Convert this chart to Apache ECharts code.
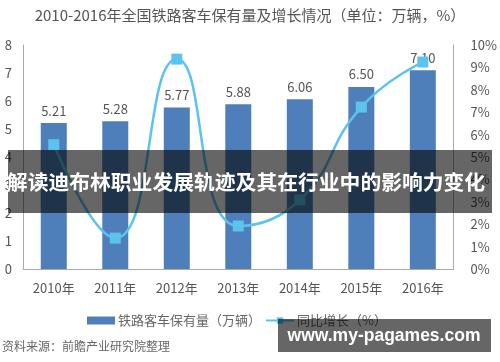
<!DOCTYPE html>
<html>
<head>
<meta charset="utf-8">
<script src="https://cdn.jsdelivr.net/npm/echarts@6/dist/echarts.min.js"></script>
<style>
html,body{margin:0;padding:0;background:#fff;}
#chart{width:500px;height:362px;}
</style>
</head>
<body>
<div id="chart"></div>
<script>
var categories = ['2010年','2011年','2012年','2013年','2014年','2015年','2016年'];
var stockValues = [5.21, 5.28, 5.77, 5.88, 6.06, 6.50, 7.10];
var growthValues = [5.55, 1.38, 9.37, 1.92, 3.08, 7.23, 9.24];
var leftTicks = {min: 0, max: 8, interval: 1};
var rightTicks = {min: 0, max: 10, interval: 1};
var titleText = '2010-2016年全国铁路客车保有量及增长情况（单位：万辆，%）';
var seriesNames = ['铁路客车保有量（万辆）', '同比增长（%）'];
var sourceText = '资料来源：前瞻产业研究院整理';
var bannerText = '解读迪布林职业发展轨迹及其在行业中的影响力变化';
var watermarkText = 'www.my-pagames.com';

var FONT = '"Noto Sans CJK SC", "Noto Sans", sans-serif';
var chart = echarts.init(document.getElementById('chart'), null, {renderer: 'canvas'});
chart.setOption({
  backgroundColor: '#fff',
  animation: false,
  textStyle: {fontFamily: FONT},
  title: {
    text: titleText,
    left: 'center',
    top: 3,
    textStyle: {fontSize: 15, fontWeight: 'normal', color: '#555', fontFamily: FONT}
  },
  legend: {
    left: 82,
    top: 309,
    itemGap: 4,
    itemWidth: 28,
    itemHeight: 8,
    textStyle: {fontSize: 13, color: '#666', fontFamily: FONT, padding: [0,0,0,-2]},
    data: [
      {name: seriesNames[0], icon: 'rect'},
      {name: seriesNames[1]}
    ]
  },
  grid: {left: 23, right: 43, top: 45, bottom: 93},
  xAxis: {
    type: 'category',
    data: categories,
    axisLine: {lineStyle: {color: '#aaa', width: 1}},
    axisTick: {show: false},
    axisLabel: {fontSize: 13, color: '#555', margin: 13, fontFamily: FONT}
  },
  yAxis: [
    {
      type: 'value',
      min: leftTicks.min, max: leftTicks.max, interval: leftTicks.interval,
      axisLine: {show: true, lineStyle: {color: '#aaa'}},
      axisTick: {show: false},
      splitLine: {show: false},
      axisLabel: {fontSize: 13, color: '#555', margin: 11, fontFamily: FONT}
    },
    {
      type: 'value',
      min: rightTicks.min, max: rightTicks.max, interval: rightTicks.interval,
      position: 'right',
      axisLine: {show: true, lineStyle: {color: '#aaa'}},
      axisTick: {show: false},
      splitLine: {show: false},
      axisLabel: {fontSize: 13, color: '#555', margin: 17, formatter: '{value}%', fontFamily: FONT}
    }
  ],
  series: [
    {
      name: seriesNames[0],
      type: 'bar',
      data: stockValues,
      barWidth: 26,
      itemStyle: {color: '#4f7fba'},
      label: {
        show: true, position: 'top', distance: 6,
        fontSize: 13, color: '#555', fontFamily: FONT,
        formatter: function (p) { return p.value.toFixed(2); }
      }
    },
    {
      name: seriesNames[1],
      type: 'line',
      yAxisIndex: 1,
      data: growthValues,
      smooth: 0.5,
      symbol: 'rect',
      symbolSize: 11,
      itemStyle: {color: '#5cc2ee'},
      lineStyle: {color: '#5cc2ee', width: 2.5},
      z: 5
    }
  ],
  graphic: [
    {
      type: 'text', left: 2, top: 340, z: 10,
      style: {text: sourceText, fontSize: 12, fill: '#666', fontFamily: FONT}
    },
    {
      type: 'rect', z: 20,
      shape: {x: 8, y: 150, width: 484, height: 63},
      style: {fill: 'rgba(0,0,0,0.6)'}
    },
    {
      type: 'text', z: 21,
      x: 246, y: 182,
      style: {
        text: bannerText, fontSize: 20.8, fontWeight: 'bold', fill: '#fff',
        fontFamily: FONT, align: 'center', verticalAlign: 'middle'
      }
    },
    {
      type: 'rect', z: 20,
      shape: {x: 278, y: 319, width: 213, height: 33},
      style: {fill: 'rgba(0,0,0,0.6)'}
    },
    {
      type: 'text', z: 21,
      x: 384, y: 336,
      style: {
        text: watermarkText, fontSize: 17.5, fontWeight: 'bold', fill: '#fff',
        fontFamily: '"Liberation Sans", sans-serif', align: 'center', verticalAlign: 'middle'
      }
    }
  ]
});
</script>
</body>
</html>
